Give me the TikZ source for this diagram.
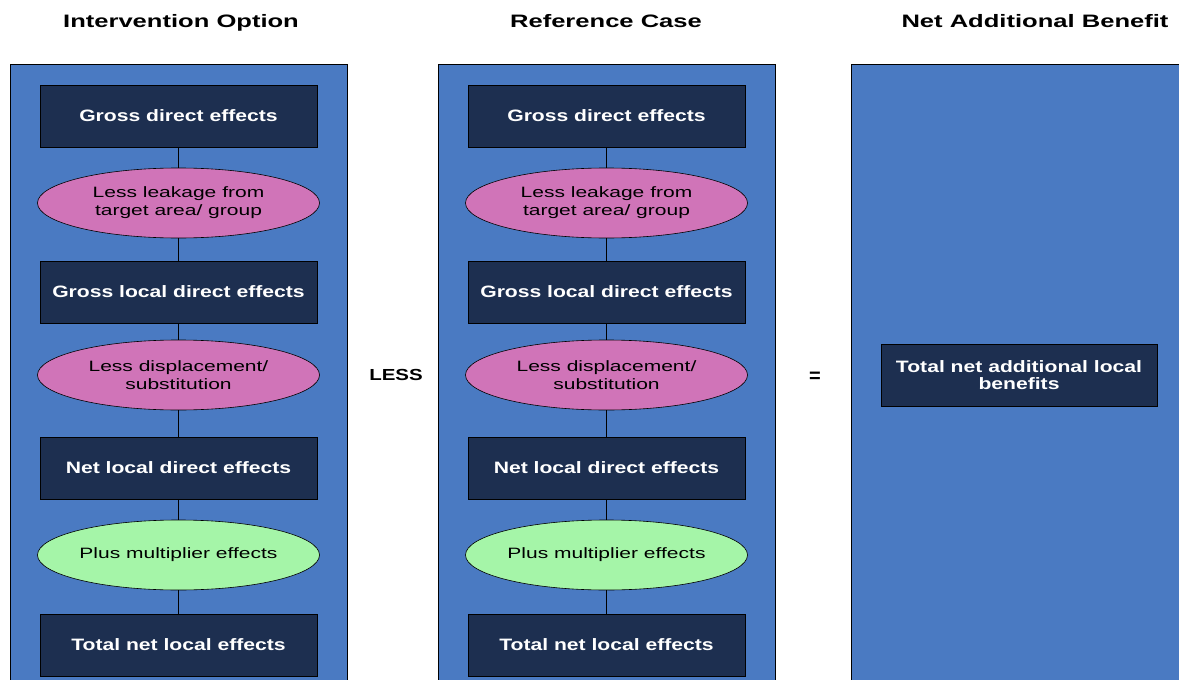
\documentclass[tikz,border=0pt]{standalone}
\usepackage{fontspec}
\setmainfont{Liberation Sans}
\newfontfamily\boxfont[FakeStretch=1.28]{Liberation Sans}
\newfontfamily\ellfont[FakeStretch=1.40]{Liberation Sans}
\newfontfamily\titlefont[FakeStretch=1.42]{Liberation Sans}
\usetikzlibrary{shapes.geometric}
\definecolor{colblue}{HTML}{4A7AC2}
\definecolor{navy}{HTML}{1D2F50}
\definecolor{pinkish}{HTML}{D074B8}
\definecolor{greenish}{HTML}{A5F5A8}
\tikzset{
  colbox/.style={draw=black, fill=colblue, line width=0.8pt},
  darkbox/.style={draw=black, fill=navy, minimum width=277pt, minimum height=62pt, text=white, font=\boxfont\fontsize{16.5}{17.5}\selectfont\bfseries, align=center, inner sep=0pt, line width=0.8pt},
  pinkell/.style={ellipse, draw=black, fill=pinkish, minimum width=282pt, minimum height=70pt, font=\ellfont\fontsize{15}{18}\selectfont, align=center, inner sep=0pt, line width=0.6pt},
  greenell/.style={pinkell, fill=greenish},
  title/.style={font=\titlefont\fontsize{18}{20}\selectfont\bfseries, anchor=base},
  link/.style={draw=black, line width=0.8pt}
}
\begin{document}
\begin{tikzpicture}[x=1pt,y=-1pt]
\useasboundingbox (0,0) rectangle (1179,680);
% columns
\path[colbox] (10,690) -- (10,64) -- (347,64) -- (347,690);
\path[colbox] (438,690) -- (438,64) -- (775,64) -- (775,690);
\path[colbox] (851,690) -- (851,64) -- (1190,64) -- (1190,690);
% titles
\node[title] (t1) at (181,27.5) {Intervention Option};
\node[title] (t2) at (606,27.5) {Reference Case};
\node[title] (t3) at (1035,27.5) {Net Additional Benefit};
\node[font=\boxfont\fontsize{16}{16}\selectfont\bfseries] (less) at (396,375) {LESS};
\node[font=\fontsize{20}{20}\selectfont\bfseries] (eq) at (815,377) {=};
% columns content
\foreach \cx/\p in {178.5/a,606.5/b}{
  \node[darkbox] (\p1) at (\cx,116) {Gross direct effects};
  \node[pinkell] (\p2) at (\cx,203) {Less leakage from\\target area/ group};
  \node[darkbox] (\p3) at (\cx,292) {Gross local direct effects};
  \node[pinkell] (\p4) at (\cx,375) {Less displacement/\\substitution};
  \node[darkbox] (\p5) at (\cx,468) {Net local direct effects};
  \node[greenell] (\p6) at (\cx,555) {Plus multiplier effects};
  \node[darkbox] (\p7) at (\cx,645) {Total net local effects};
  \draw[link] (\p1) -- (\p2);
  \draw[link] (\p2) -- (\p3);
  \draw[link] (\p3) -- (\p4);
  \draw[link] (\p4) -- (\p5);
  \draw[link] (\p5) -- (\p6);
  \draw[link] (\p6) -- (\p7);
}
\node[darkbox, minimum width=276pt] (c1) at (1019,375) {Total net additional local\\benefits};
\end{tikzpicture}
\end{document}
